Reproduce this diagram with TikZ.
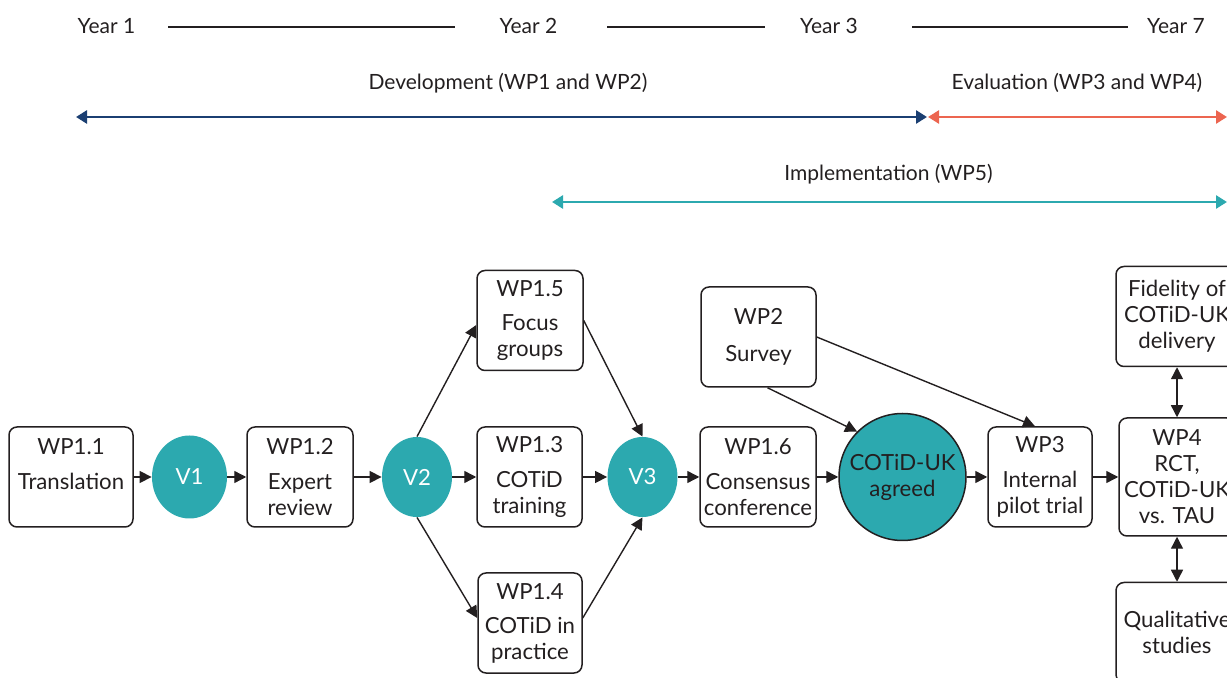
\documentclass[tikz,border=0pt]{standalone}
\usepackage{fontspec}
\setmainfont{Lato}
\usetikzlibrary{arrows.meta,shapes.geometric}
\definecolor{cotidteal}{RGB}{44,169,175}
\definecolor{devblue}{RGB}{27,63,114}
\definecolor{evalred}{RGB}{236,101,80}
\definecolor{inkgray}{RGB}{35,31,32}
\begin{document}
\begin{tikzpicture}[x=0.5pt,y=-0.5pt,
  every node/.style={text=inkgray,font=\fontsize{11.1}{13}\selectfont},
  toplabel/.style={font=\fontsize{10.5}{12.6}\selectfont},
  wpbox/.style={draw=inkgray,line width=0.75pt,rounded corners=4pt,align=center,inner sep=0pt,minimum height=50pt},
  vnode/.style={ellipse,fill=cotidteal,text=white,inner sep=0pt},
  flow/.style={draw=inkgray,line width=0.7pt,-{Triangle[length=6pt,width=6pt]}},
  both/.style={draw=inkgray,line width=0.7pt,{Triangle[length=6pt,width=6pt]}-{Triangle[length=6pt,width=6pt]}},
  phase/.style={line width=1.3pt,{Triangle[length=5.5pt,width=6.5pt]}-{Triangle[length=5.5pt,width=6.5pt]}}]
\useasboundingbox (0,0) rectangle (1227,678);
\clip (0,0) rectangle (1227,678);
% timeline
\node [toplabel] (year1) at (106.5,26) {Year 1};
\node [toplabel] (year2) at (528.5,26) {Year 2};
\node [toplabel] (year3) at (829,26) {Year 3};
\node [toplabel] (year7) at (1176,26) {Year 7};
\draw [inkgray,line width=0.8pt] (168,27) -- (455,27);
\draw [inkgray,line width=0.8pt] (607,27) -- (765,27);
\draw [inkgray,line width=0.8pt] (912,27) -- (1128,27);
\node [toplabel] (devlabel) at (508,83) {Development (WP1 and WP2)};
\node [toplabel] (evallabel) at (1077,83) {Evaluation (WP3 and WP4)};
\node [toplabel] (implabel) at (888.5,174) {Implementation (WP5)};
\draw [phase,devblue] (76,117) -- (927,117);
\draw [phase,evalred] (928,117) -- (1227,117);
\draw [phase,cotidteal] (552,202) -- (1227,202);
% work packages
\node [wpbox,minimum width=62pt] (wp11) at (71,477) {WP1.1\\[4.5pt]Translation\\\mbox{}};
\node [vnode,minimum width=37.5pt,minimum height=41.5pt] (v1) at (189.5,477) {V1};
\node [wpbox,minimum width=53pt] (wp12) at (300,477) {WP1.2\\[4.5pt]Expert\\review};
\node [vnode,minimum width=35pt,minimum height=40pt] (v2) at (417,477) {V2};
\node [wpbox,minimum width=52.5pt] (wp13) at (529.5,477) {WP1.3\\[4.5pt]COTiD\\training};
\node [wpbox,minimum width=53pt] (wp15) at (530,320.5) {WP1.5\\[4pt]Focus\\groups};
\node [wpbox,minimum width=52pt] (wp14) at (530,623) {WP1.4\\[4pt]COTiD in\\practice};
\node [vnode,minimum width=35pt,minimum height=40pt] (v3) at (642.5,477) {V3};
\node [wpbox,minimum width=58pt] (wp16) at (758,477) {WP1.6\\[4.5pt]Consensus\\conference};
\node [wpbox,minimum width=57.5pt] (wp2) at (758.5,337) {WP2\\[5.5pt]Survey};
\node [circle,draw=inkgray,line width=0.75pt,fill=cotidteal,minimum size=63.5pt,inner sep=0pt,align=center] (agreed) at (902.5,477) {COTiD-UK\\agreed};
\node [wpbox,minimum width=52pt] (wp3) at (1040,477) {WP3\\[4.5pt]Internal\\pilot trial};
\node [wpbox,minimum width=58pt,minimum height=59pt] (wp4) at (1177,477) {WP4\\RCT,\\COTiD-UK\\vs. TAU};
\node [wpbox,minimum width=61pt] (fidelity) at (1177,316.5) {Fidelity of\\COTiD-UK\\delivery};
\node [wpbox,minimum width=61pt] (qual) at (1177,632.5) {Qualitative\\studies};
% connectors
\draw [flow] (wp11) -- (v1);
\draw [flow] (v1) -- (wp12);
\draw [flow] (wp12) -- (v2);
\draw [flow] (v2) -- (wp13);
\draw [flow] (v2.north) -- ([yshift=-2.25pt]wp15.west);
\draw [flow] (v2.south) -- ([yshift=2.5pt]wp14.west);
\draw [flow] (wp13) -- (v3);
\draw [flow] (wp15.east) -- (v3.north);
\draw [flow] ([yshift=2.5pt]wp14.east) -- (v3.south);
\draw [flow] (v3) -- (wp16);
\draw [flow] (wp16) -- (agreed);
\draw [flow] ([xshift=4.5pt]wp2.south) -- (agreed.135);
\draw [flow] (wp2.east) -- ([xshift=-2.5pt]wp3.north);
\draw [flow] (agreed) -- (wp3);
\draw [flow] (wp3) -- (wp4);
\draw [both] (fidelity) -- (wp4);
\draw [both] (wp4) -- (qual);
\end{tikzpicture}
\end{document}
